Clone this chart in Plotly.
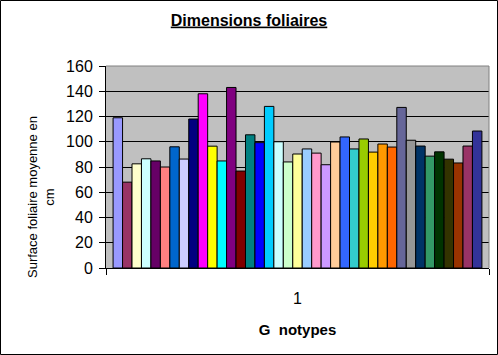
import plotly.graph_objects as go

categories = ["1"]
values = [119, 68, 82.5, 86.5, 84.8, 80, 96, 86.3, 118, 138, 96.5, 84.8, 143, 76.8,
          105.5, 99.3, 128, 100, 84, 90.3, 94.3, 91, 81.8, 99.8, 103.8, 94.3, 102.2,
          91.8, 98.2, 95.8, 127.2, 101.2, 96.6, 88.6, 92, 86.2, 83.2, 96.6, 108.5]
colors = ["#9999FF", "#993366", "#FFFFCC", "#CCFFFF", "#660066", "#FF8080", "#0066CC",
          "#CCCCFF", "#000080", "#FF00FF", "#FFFF00", "#00FFFF", "#800080", "#800000",
          "#008080", "#0000FF", "#00CCFF", "#CCFFFF", "#CCFFCC", "#FFFF99", "#99CCFF",
          "#FF99CC", "#CC99FF", "#FFCC99", "#3366FF", "#33CCCC", "#99CC00", "#FFCC00",
          "#FF9900", "#FF6600", "#666699", "#969696", "#003366", "#339966", "#003300",
          "#333300", "#993300", "#993366", "#333399"]
series_names = [f"Série{i+1}" for i in range(len(values))]
y_ticks = [0, 20, 40, 60, 80, 100, 120, 140, 160]

W, H = 498, 355
ML, MR, MT, MB = 106, 9, 66, 87
PW, PH = W - ML - MR, H - MT - MB

FONT = "Liberation Sans, Arial, sans-serif"

fig = go.Figure()
for name, v, c in zip(series_names, values, colors):
    fig.add_trace(go.Bar(x=categories, y=[v], name=name, marker_color=c,
                         marker_line_color="black", marker_line_width=1,
                         showlegend=False))

fig.update_layout(
    width=W, height=H,
    margin=dict(l=ML, r=MR, t=MT, b=MB, pad=0),
    paper_bgcolor="white", plot_bgcolor="#C0C0C0",
    barmode="group", bargap=1.5 / 40.5, bargroupgap=0,
    font=dict(family=FONT, color="black"),
    title=dict(text="<b>Dimensions foliaires</b>", x=0.5, xanchor="center",
               y=1 - 20 / H, yanchor="middle",
               font=dict(size=16, family=FONT, color="black", lineposition="under")),
)
fig.update_yaxes(range=[0, 160], tickvals=y_ticks, ticks="outside", ticklen=6,
                 tickcolor="black", showline=True, linecolor="black", linewidth=1,
                 showgrid=True, gridcolor="black", gridwidth=1, zeroline=False,
                 tickfont=dict(size=16, family=FONT), ticklabelstandoff=3)
fig.update_xaxes(type="category", ticks="outside", ticklen=6, tickson="boundaries",
                 tickcolor="black", showline=True, linecolor="black", linewidth=1,
                 showgrid=False, tickfont=dict(size=16, family=FONT),
                 ticklabelstandoff=16,
                 title=dict(text="<b>G\u00a0\u00a0notypes</b>", standoff=18,
                            font=dict(size=15, family=FONT)))

fig.add_annotation(text="Surface foliaire moyenne en<br>cm", textangle=-90,
                   xref="paper", yref="paper", x=(41 - ML) / PW, y=(H - MB - 197) / PH,
                   xanchor="center", yanchor="middle", showarrow=False,
                   font=dict(size=13, family=FONT, color="black"))

# plot-area border (top and right in gray)
fig.add_shape(type="line", xref="paper", yref="paper", x0=0, x1=1, y0=1, y1=1,
              line=dict(color="#808080", width=1))
fig.add_shape(type="line", xref="paper", yref="paper", x0=1, x1=1, y0=0, y1=1,
              line=dict(color="#808080", width=1))
# outer chart frame
fig.add_shape(type="rect", xref="paper", yref="paper",
              x0=(-ML + 0.5) / PW, x1=1 + (MR - 0.5) / PW,
              y0=(-MB + 0.5) / PH, y1=1 + (MT - 0.5) / PH,
              line=dict(color="black", width=1))

fig.write_html("out.html", config=dict(displayModeBar=False),
               post_script="document.body.style.margin='0';document.body.style.padding='0';")
